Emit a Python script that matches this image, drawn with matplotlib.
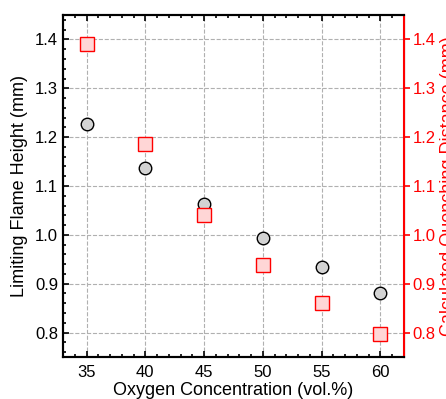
import matplotlib
matplotlib.use('Agg')
import matplotlib.pyplot as plt
from matplotlib.ticker import MultipleLocator

oxygen = [35, 40, 45, 50, 55, 60]
flame_height = [1.227, 1.136, 1.063, 0.994, 0.934, 0.881]
quench_dist = [1.390, 1.185, 1.041, 0.938, 0.860, 0.797]

plt.rcParams['font.family'] = ['Liberation Sans', 'DejaVu Sans']
plt.rcParams['font.size'] = 12

fig = plt.figure(figsize=(4.46, 3.99), dpi=100)
ax = fig.add_axes([63 / 446, 42 / 399, 341 / 446, 342 / 399])
ax2 = ax.twinx()

ax.plot(oxygen, flame_height, 'o', ms=9, mfc='#d3d3d3', mec='black', mew=1.0, zorder=3)
ax2.plot(oxygen, quench_dist, 's', ms=9.5, mfc='#ffd6d6', mec='red', mew=1.0, zorder=3)

ax.set_xlim(33, 62)
ax.set_ylim(0.75, 1.45)
ax2.set_ylim(0.75, 1.45)

ax.xaxis.set_major_locator(MultipleLocator(5))
ax.xaxis.set_minor_locator(MultipleLocator(1))
ax.yaxis.set_major_locator(MultipleLocator(0.1))
ax.yaxis.set_minor_locator(MultipleLocator(0.02))
ax2.yaxis.set_major_locator(MultipleLocator(0.1))
ax.yaxis.set_major_formatter(plt.FormatStrFormatter('%.1f'))
ax2.yaxis.set_major_formatter(plt.FormatStrFormatter('%.1f'))

ax.grid(True, which='major', ls='--', color='#b0b0b0', lw=0.8)
ax.tick_params(which='both', direction='in', top=True, right=False, width=1.2, labelsize=12)
ax.tick_params(which='major', length=4)
ax.tick_params(which='minor', length=2.5)
ax.tick_params(axis='x', which='major', pad=6)

ax2.tick_params(axis='y', colors='red', direction='out', length=4, width=1.2, labelsize=12, pad=2)
ax2.tick_params(axis='y', which='minor', right=False)
for side in ['left', 'bottom', 'top']:
    ax.spines[side].set_linewidth(1.5)
ax2.spines['right'].set_color('red')
ax2.spines['right'].set_linewidth(1.5)
ax2.spines['left'].set_linewidth(1.5)
ax2.spines['top'].set_linewidth(1.5)
ax2.spines['bottom'].set_linewidth(1.5)

ax.set_xlabel('Oxygen Concentration (vol.%)', fontsize=13, labelpad=1)
ax.set_ylabel('Limiting Flame Height (mm)', fontsize=13, labelpad=5)
ax2.set_ylabel('Calculated Quenching Distance (mm)', color='red', fontsize=13, labelpad=3)

fig.savefig('out.png', dpi=100)
